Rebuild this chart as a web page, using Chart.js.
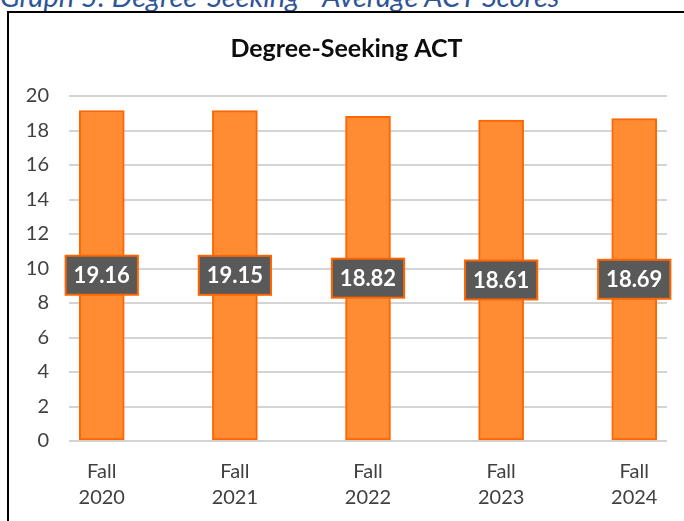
<!DOCTYPE html>
<html>
<head>
<meta charset="utf-8">
<script src="https://cdn.jsdelivr.net/npm/chart.js@4.4.1/dist/chart.umd.min.js"></script>
<style>
  html, body { margin: 0; padding: 0; background: #fff; overflow: hidden; }
  #wrap { position: relative; width: 684px; height: 521px; overflow: hidden; }
  #caption {
    position: absolute; left: 0; top: -22px; line-height: 29px;
    font: italic 29px Lato, sans-serif; color: #2F5597; white-space: nowrap;
  }
  #frame {
    position: absolute; left: 7px; top: 11px; width: 720px; height: 600px;
    border-left: 2px solid #000; border-top: 2px solid #000;
  }
  #actChart { position: absolute; left: 0; top: 0; }
</style>
</head>
<body>
<div id="wrap">
  <div id="caption">Graph 5: Degree-Seeking - Average ACT Scores</div>
  <div id="frame"></div>
  <canvas id="actChart" width="684" height="521"></canvas>
</div>
<script>
// Chart data
const categories = ['Fall 2020', 'Fall 2021', 'Fall 2022', 'Fall 2023', 'Fall 2024'];
const actScores = [19.16, 19.15, 18.82, 18.61, 18.69];
const yTicks = [0, 2, 4, 6, 8, 10, 12, 14, 16, 18, 20];

const COLORS = {
    barFill: '#FF8C33',
    barEdge: '#FF6600',
    labelBox: '#595959',
    grid: '#D4D4D4',
    tickText: '#404040',
};

// Excel-style value boxes, centred on each bar
const valueBoxes = {
    id: 'valueBoxes',
    afterDatasetsDraw(chart) {
        const ctx = chart.ctx;
        const meta = chart.getDatasetMeta(0);
        ctx.save();
        ctx.font = 'bold 22px Lato, sans-serif';
        ctx.textAlign = 'center';
        ctx.textBaseline = 'middle';
        meta.data.forEach((bar, i) => {
            const { x, y, base } = bar.getProps(['x', 'y', 'base'], true);
            const text = actScores[i].toFixed(2);
            const w = ctx.measureText(text).width + 16;
            const h = 39;
            const cy = (y + base) / 2;
            ctx.fillStyle = COLORS.labelBox;
            ctx.fillRect(x - w / 2, cy - h / 2, w, h);
            ctx.strokeStyle = COLORS.barEdge;
            ctx.lineWidth = 2;
            ctx.strokeRect(x - w / 2, cy - h / 2, w, h);
            ctx.fillStyle = '#FFFFFF';
            ctx.fillText(text, x, cy + 1);
        });
        ctx.restore();
    },
};

const ctx = document.getElementById('actChart').getContext('2d');

new Chart(ctx, {
    type: 'bar',
    data: {
        datasets: [{
            data: actScores.map((v, i) => ({ x: i, y: v })),
            backgroundColor: COLORS.barFill,
            borderColor: COLORS.barEdge,
            borderWidth: 2,
            borderSkipped: false,
            barThickness: 45,
        }],
    },
    options: {
        responsive: false,
        animation: false,
        layout: { padding: { left: 26, right: 17, top: 0, bottom: 0 } },
        plugins: {
            legend: { display: false },
            tooltip: { enabled: false },
            title: {
                display: true,
                text: 'Degree-Seeking ACT',
                color: '#0D0D0D',
                font: { family: 'Lato', size: 25, weight: 'bold', lineHeight: 1.2 },
                padding: { top: 34, bottom: 32 },
            },
        },
        scales: {
            x: {
                type: 'linear',
                offset: false,
                min: -0.246,
                max: 4.246,
                grid: { display: false, offset: false },
                border: { display: false },
                afterBuildTicks: (scale) => {
                    scale.ticks = categories.map((_, i) => ({ value: i }));
                },
                afterFit: (scale) => { scale.height = 80; },
                ticks: {
                    autoSkip: false,
                    maxRotation: 0,
                    padding: 10,
                    color: COLORS.tickText,
                    font: { family: 'Lato', size: 20, lineHeight: 1.3 },
                    callback: (v) => (categories[v] ? categories[v].split(' ') : ''),
                },
            },
            y: {
                min: 0,
                max: 20,
                afterBuildTicks: (scale) => {
                    scale.ticks = yTicks.map((v) => ({ value: v }));
                },
                afterFit: (scale) => { scale.width = 43; },
                grid: { color: COLORS.grid, lineWidth: 2, drawTicks: false },
                border: { display: false },
                ticks: {
                    padding: 20,
                    color: COLORS.tickText,
                    font: { family: 'Lato', size: 20 },
                },
            },
        },
    },
    plugins: [valueBoxes],
});
</script>
</body>
</html>
